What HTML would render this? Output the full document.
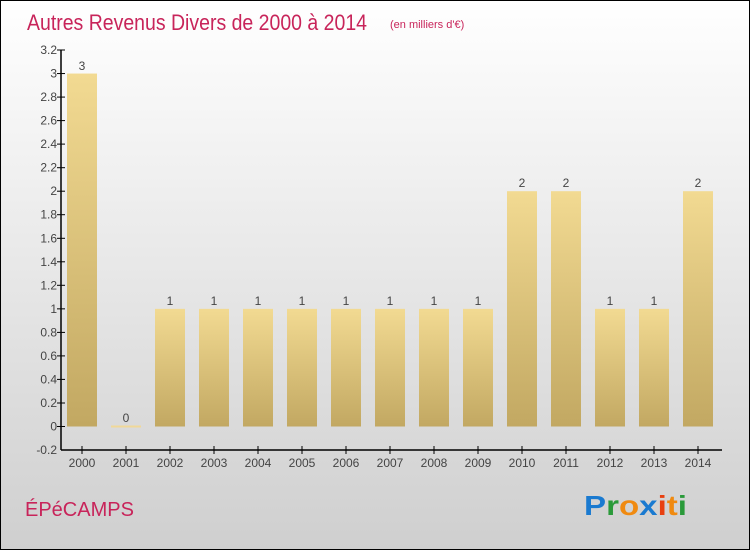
<!DOCTYPE html>
<html><head><meta charset="utf-8"><style>
html,body{margin:0;padding:0}
body{width:750px;height:550px;overflow:hidden;font-family:"Liberation Sans",sans-serif}
</style></head><body>
<svg width="750" height="550" xmlns="http://www.w3.org/2000/svg">
<defs>
<linearGradient id="bg" x1="0" y1="0" x2="0" y2="1"><stop offset="0" stop-color="#ffffff"/><stop offset="1" stop-color="#cfcfcf"/></linearGradient>
<linearGradient id="bar" x1="0" y1="0" x2="0" y2="1"><stop offset="0" stop-color="#f2da92"/><stop offset="1" stop-color="#c2a862"/></linearGradient>
</defs>
<rect x="0.5" y="0.5" width="749" height="549" fill="url(#bg)" stroke="#000"/>
<text x="27" y="30" font-size="22" fill="#c8245a" textLength="340" lengthAdjust="spacingAndGlyphs">Autres Revenus Divers de 2000 à 2014</text>
<text x="390" y="28" font-size="11" fill="#c8245a">(en milliers d'€)</text>

<g fill="url(#bar)">
<rect x="67" y="73.55" width="30" height="352.95"/>
<rect x="111" y="425.5" width="30" height="2" fill="#f0d898"/>
<rect x="155" y="308.85" width="30" height="117.65"/>
<rect x="199" y="308.85" width="30" height="117.65"/>
<rect x="243" y="308.85" width="30" height="117.65"/>
<rect x="287" y="308.85" width="30" height="117.65"/>
<rect x="331" y="308.85" width="30" height="117.65"/>
<rect x="375" y="308.85" width="30" height="117.65"/>
<rect x="419" y="308.85" width="30" height="117.65"/>
<rect x="463" y="308.85" width="30" height="117.65"/>
<rect x="507" y="191.2" width="30" height="235.3"/>
<rect x="551" y="191.2" width="30" height="235.3"/>
<rect x="595" y="308.85" width="30" height="117.65"/>
<rect x="639" y="308.85" width="30" height="117.65"/>
<rect x="683" y="191.2" width="30" height="235.3"/>
</g>
<g font-size="12" fill="#444" text-anchor="middle">
<text x="82" y="70">3</text><text x="126" y="422">0</text><text x="170" y="305">1</text><text x="214" y="305">1</text><text x="258" y="305">1</text><text x="302" y="305">1</text><text x="346" y="305">1</text><text x="390" y="305">1</text><text x="434" y="305">1</text><text x="478" y="305">1</text><text x="522" y="187">2</text><text x="566" y="187">2</text><text x="610" y="305">1</text><text x="654" y="305">1</text><text x="698" y="187">2</text>
</g>

<line x1="61" y1="50" x2="61" y2="450" stroke="#000" stroke-width="1.5"/>
<line x1="61" y1="450" x2="722" y2="450" stroke="#000" stroke-width="1.5"/>
<g stroke="#000">
<line x1="57" x2="65" y1="50" y2="50"/><line x1="57" x2="65" y1="73.55" y2="73.55"/><line x1="57" x2="65" y1="97.08" y2="97.08"/><line x1="57" x2="65" y1="120.6" y2="120.6"/><line x1="57" x2="65" y1="144.1" y2="144.1"/><line x1="57" x2="65" y1="167.7" y2="167.7"/><line x1="57" x2="65" y1="191.2" y2="191.2"/><line x1="57" x2="65" y1="214.7" y2="214.7"/><line x1="57" x2="65" y1="238.3" y2="238.3"/><line x1="57" x2="65" y1="261.8" y2="261.8"/><line x1="57" x2="65" y1="285.3" y2="285.3"/><line x1="57" x2="65" y1="308.85" y2="308.85"/><line x1="57" x2="65" y1="332.4" y2="332.4"/><line x1="57" x2="65" y1="355.9" y2="355.9"/><line x1="57" x2="65" y1="379.4" y2="379.4"/><line x1="57" x2="65" y1="403" y2="403"/><line x1="57" x2="65" y1="426.5" y2="426.5"/>
<line x1="82" x2="82" y1="446" y2="454"/><line x1="126" x2="126" y1="446" y2="454"/><line x1="170" x2="170" y1="446" y2="454"/><line x1="214" x2="214" y1="446" y2="454"/><line x1="258" x2="258" y1="446" y2="454"/><line x1="302" x2="302" y1="446" y2="454"/><line x1="346" x2="346" y1="446" y2="454"/><line x1="390" x2="390" y1="446" y2="454"/><line x1="434" x2="434" y1="446" y2="454"/><line x1="478" x2="478" y1="446" y2="454"/><line x1="522" x2="522" y1="446" y2="454"/><line x1="566" x2="566" y1="446" y2="454"/><line x1="610" x2="610" y1="446" y2="454"/><line x1="654" x2="654" y1="446" y2="454"/><line x1="698" x2="698" y1="446" y2="454"/>
</g>
<g font-size="12" fill="#444" text-anchor="end">
<text x="57" y="54">3.2</text><text x="57" y="77.5">3</text><text x="57" y="101">2.8</text><text x="57" y="124.6">2.6</text><text x="57" y="148.1">2.4</text><text x="57" y="171.7">2.2</text><text x="57" y="195.2">2</text><text x="57" y="218.7">1.8</text><text x="57" y="242.3">1.6</text><text x="57" y="265.8">1.4</text><text x="57" y="289.3">1.2</text><text x="57" y="312.8">1</text><text x="57" y="336.4">0.8</text><text x="57" y="359.9">0.6</text><text x="57" y="383.4">0.4</text><text x="57" y="407">0.2</text><text x="57" y="430.5">0</text><text x="57" y="454">-0.2</text>
</g>
<g font-size="12" fill="#444" text-anchor="middle">
<text x="82" y="467">2000</text><text x="126" y="467">2001</text><text x="170" y="467">2002</text><text x="214" y="467">2003</text><text x="258" y="467">2004</text><text x="302" y="467">2005</text><text x="346" y="467">2006</text><text x="390" y="467">2007</text><text x="434" y="467">2008</text><text x="478" y="467">2009</text><text x="522" y="467">2010</text><text x="566" y="467">2011</text><text x="610" y="467">2012</text><text x="654" y="467">2013</text><text x="698" y="467">2014</text>
</g>
<text x="25" y="516" font-size="20" fill="#c8245a">ÉPéCAMPS</text>
<text x="584" y="515" font-size="28" font-weight="bold" textLength="103" lengthAdjust="spacingAndGlyphs"><tspan fill="#1a7ad0">P</tspan><tspan fill="#2a9a3a">r</tspan><tspan fill="#f08a10">o</tspan><tspan fill="#1a7ad0">x</tspan><tspan fill="#e84010">i</tspan><tspan fill="#f08a10">t</tspan><tspan fill="#2a9a3a">i</tspan></text>
</svg>
</body></html>
